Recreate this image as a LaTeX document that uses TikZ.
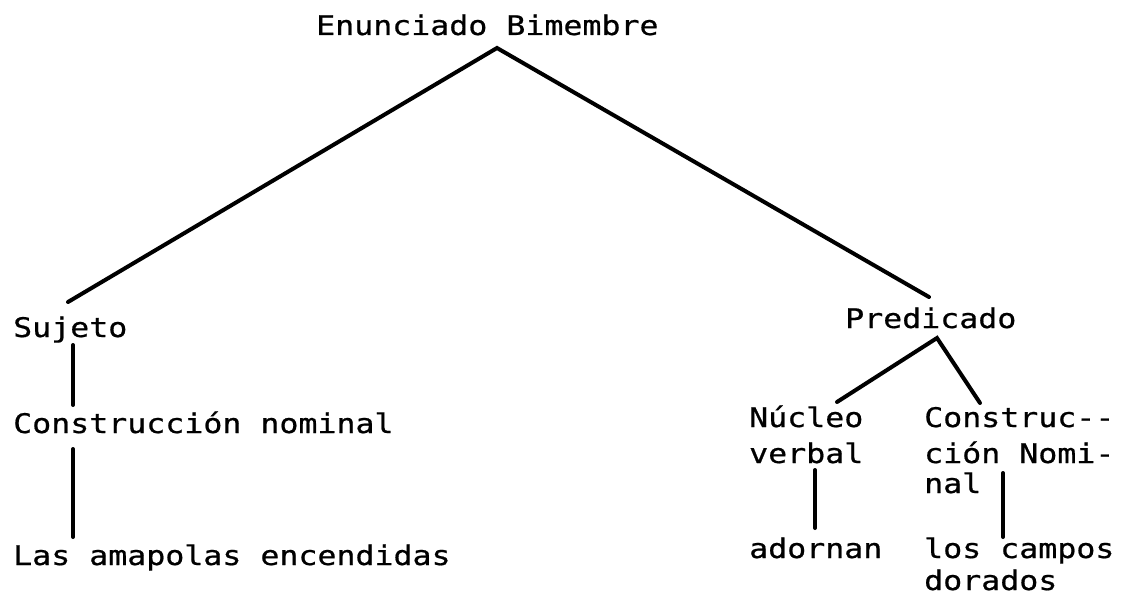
\documentclass[tikz,border=0pt]{standalone}
\usepackage{fontspec}
\newfontfamily\tw{DejaVu Sans Mono}[FakeStretch=1.17,FakeBold=0.7]
\begin{document}
\begin{tikzpicture}[x=1pt,y=-1pt,
  lbl/.style={anchor=base west,inner sep=0pt,font=\tw\fontsize{27pt}{36pt}\selectfont},
  edge/.style={line width=4pt,line cap=round}]
\useasboundingbox (0,0) rectangle (1125,596);
% texts
\node[lbl] (top) at (316,35) {Enunciado Bimembre};
\node[lbl] (suj) at (13,337) {Sujeto};
\node[lbl] (cn) at (13,433) {Construcción nominal};
\node[lbl] (las) at (13,565) {Las amapolas encendidas};
\node[lbl] (pred) at (845,328) {Predicado};
\node[lbl] (nuc1) at (749,427) {Núcleo};
\node[lbl] (nuc2) at (749,463) {verbal};
\node[lbl] (cnr1) at (924,427) {Construc--};
\node[lbl] (cnr2) at (924,463) {ción Nomi-};
\node[lbl] (cnr3) at (924,493) {nal};
\node[lbl] (ado) at (749,558) {adornan};
\node[lbl] (los1) at (924,558) {los campos};
\node[lbl] (los2) at (924,590) {dorados};
% connector end points
\coordinate (apex) at (497,48);
\coordinate (sujT) at (68,302);
\coordinate (predT) at (929,297);
\coordinate (sujB) at (73,345);
\coordinate (cnT) at (73,405);
\coordinate (cnB) at (73,449);
\coordinate (lasT) at (73,537);
\coordinate (predB) at (937,338);
\coordinate (nucT) at (837,402);
\coordinate (cnrT) at (980,403);
\coordinate (nucB) at (815,470);
\coordinate (adoT) at (815,528);
\coordinate (cnrB) at (1003,473);
\coordinate (losT) at (1003,537);
% connectors
\draw[edge] (sujT) -- (apex) -- (predT);
\draw[edge] (sujB) -- (cnT);
\draw[edge] (cnB) -- (lasT);
\draw[edge] (nucT) -- (predB) -- (cnrT);
\draw[edge] (nucB) -- (adoT);
\draw[edge] (cnrB) -- (losT);
\end{tikzpicture}
\end{document}
